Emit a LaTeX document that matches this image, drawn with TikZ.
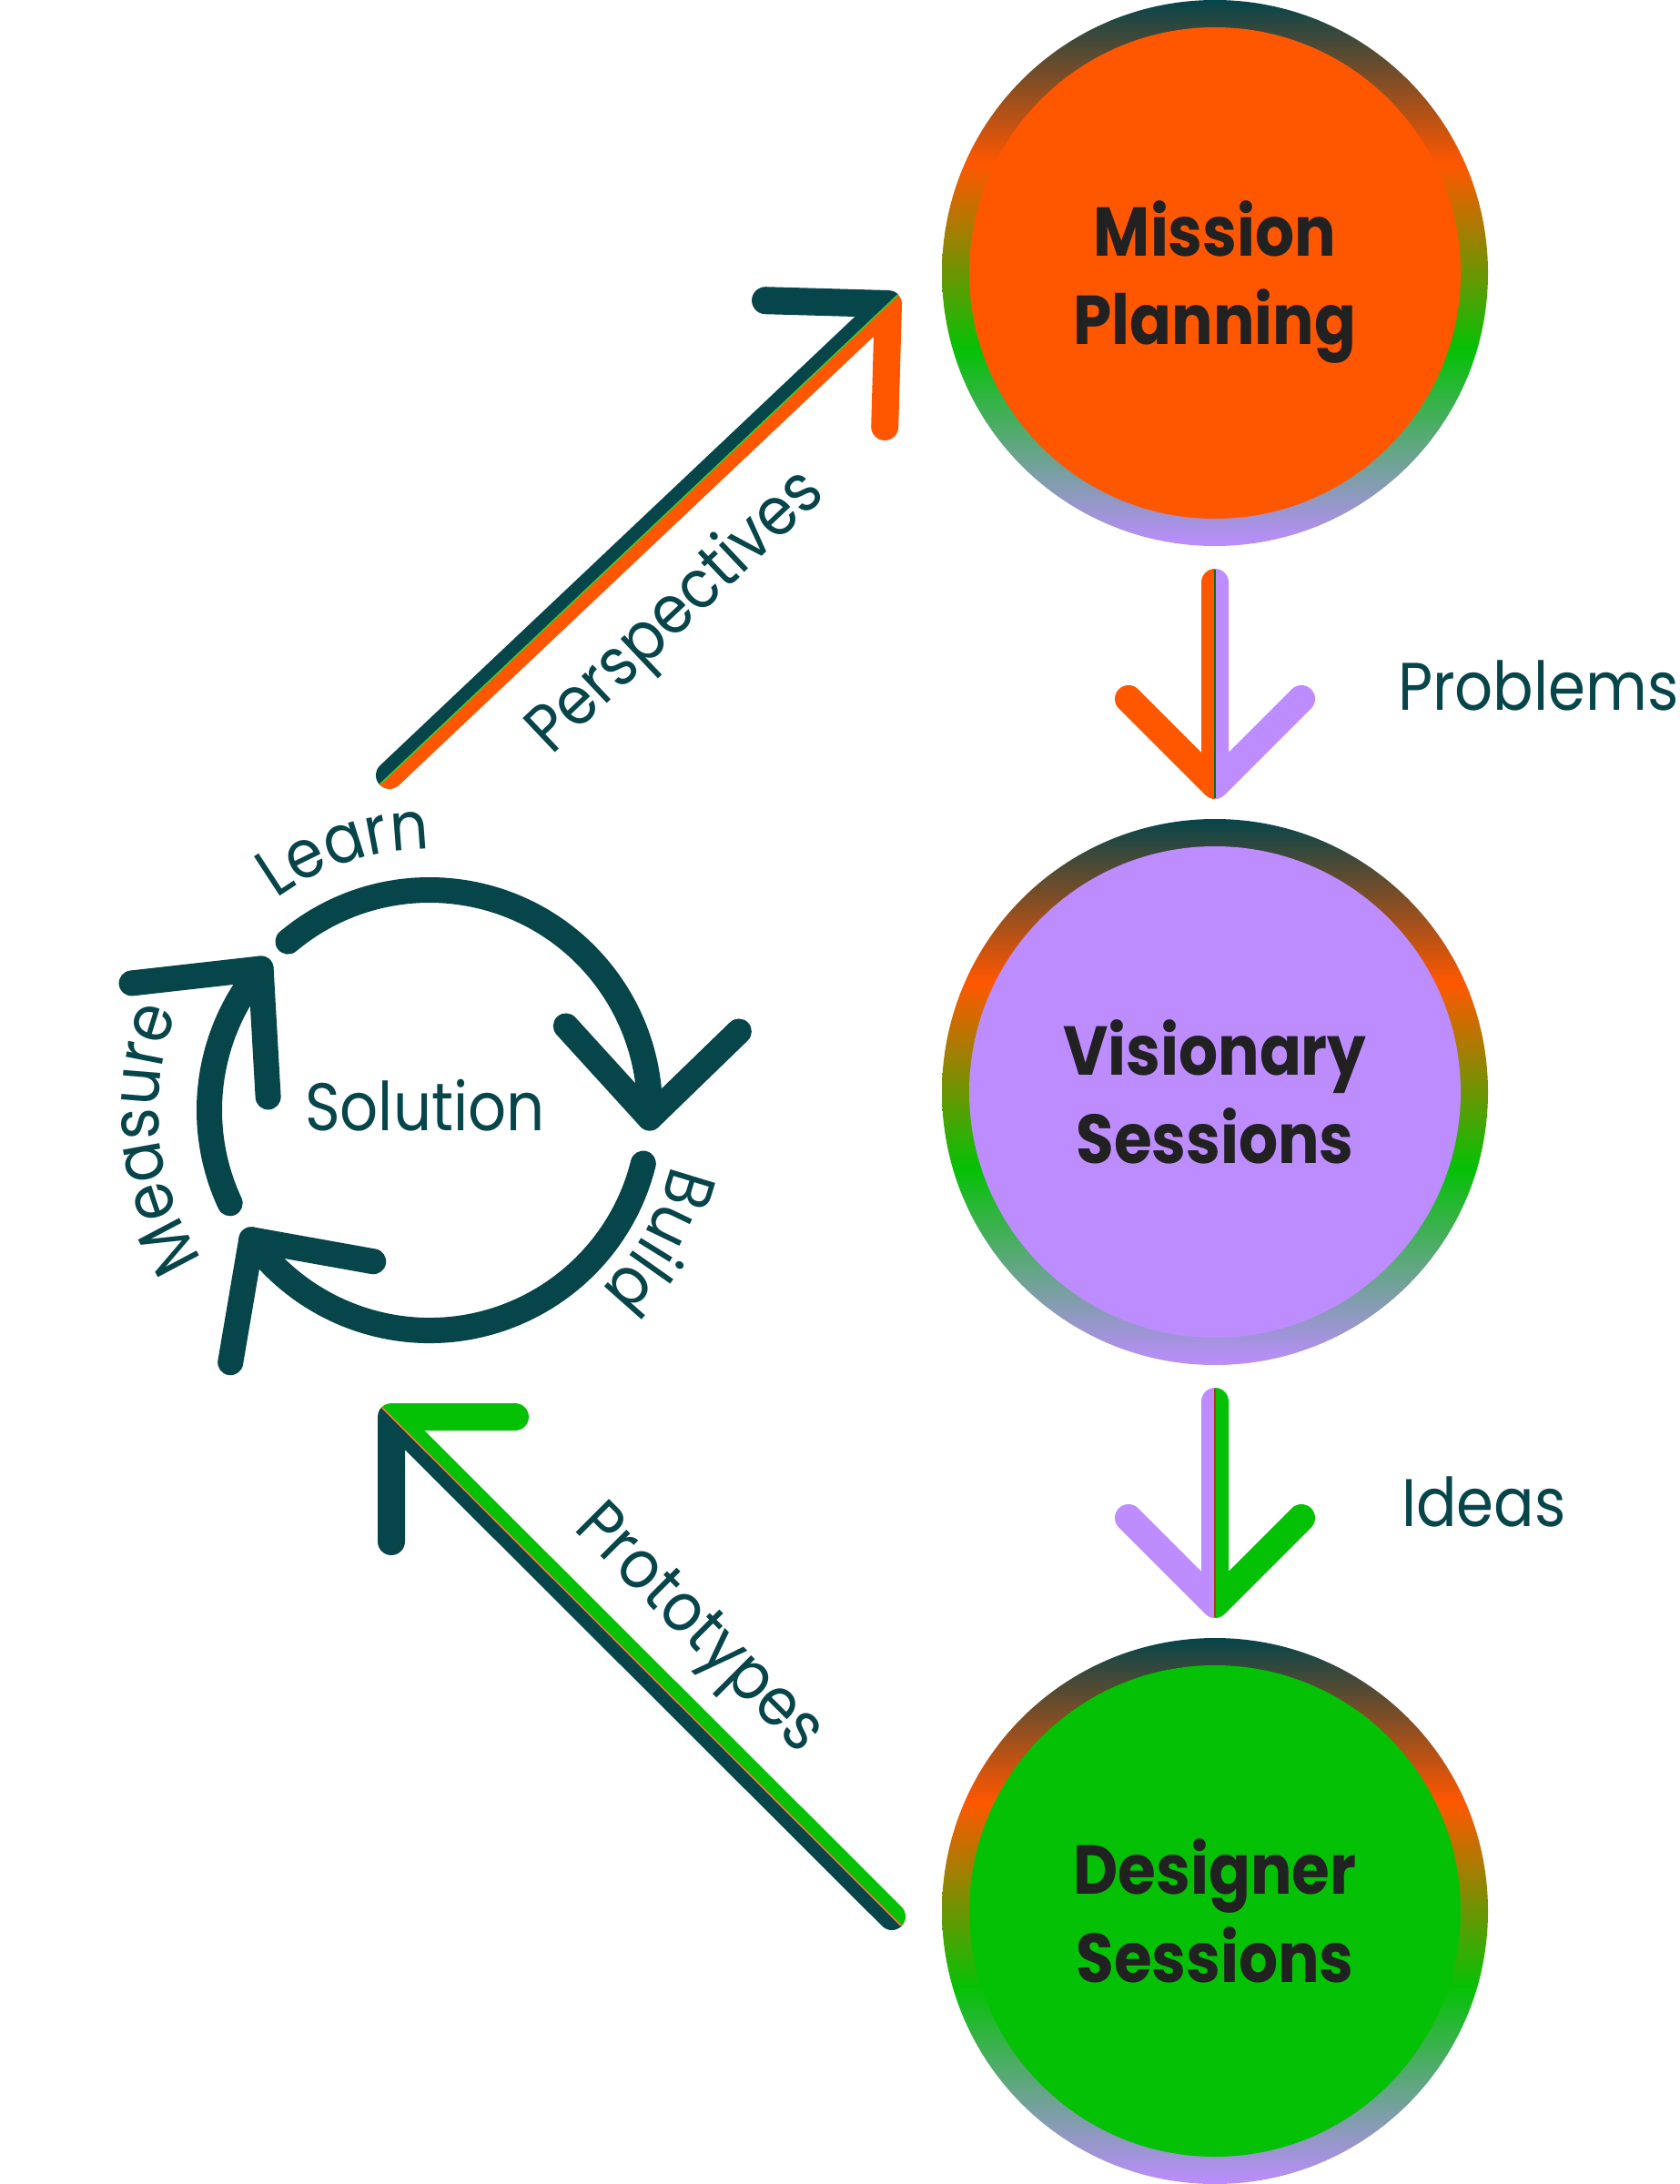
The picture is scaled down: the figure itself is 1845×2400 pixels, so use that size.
\documentclass[tikz,border=0pt]{standalone}
\usepackage{fontspec}
\setmainfont{Poppins}[FakeStretch=0.89]
\usepackage{tikz}
\usetikzlibrary{calc}
\usetikzlibrary{decorations.text}
\usepackage{color}
\definecolor{Teal-1}{HTML}{06454A}
\definecolor{Orange-1}{HTML}{FF5700}
\definecolor{Lilac-1}{HTML}{BD8CFF}
\definecolor{Green-1}{HTML}{05C105}
\definecolor{Ink-1}{HTML}{212121}
\pgfdeclareverticalshading{ringshade}{100bp}{color(0bp)=(Lilac-1); color(25bp)=(Lilac-1); color(43bp)=(Green-1); color(60bp)=(Orange-1); color(75bp)=(Teal-1); color(100bp)=(Teal-1)}
\newcommand{\labelfont}{\fontsize{74}{89}\selectfont}
\newcommand{\titlefont}{\bfseries\fontsize{76}{97}\selectfont}

\begin{document}
\begin{tikzpicture}[x=1pt, y=1pt,
    ring/.style={circle, inner sep=0pt, outer sep=0pt, minimum size=600pt, shading=ringshade},
    disc/.style={circle, inner sep=0pt, outer sep=0pt, minimum size=540pt, text=Ink-1, font=\titlefont, align=center, text depth=0pt},
    halfarrow/.style={line width=30pt, line cap=round, line join=round},
    seam/.style={line width=1.5pt},
    loop/.style={draw=Teal-1, line width=28pt, line cap=round, line join=round},
    lbl/.style={inner sep=0pt, outer sep=0pt, text=Teal-1, font=\labelfont}]

    \path[use as bounding box, fill=white] (0,0) rectangle (1845,-2400);

    \node[ring] (mission_ring)   at (1335, -300) {};
    \node[disc, fill=Orange-1] (mission)   at (1335, -300) {Mission\\Planning};
    \node[ring] (visionary_ring) at (1335, -300-900) {};
    \node[disc, fill=Lilac-1]  (visionary) at (1335, -300-900) {Visionary\\Sessions};
    \node[ring] (designer_ring)  at (1335, -300-1800) {};
    \node[disc, fill=Green-1]  (designer)  at (1335, -300-1800) {Designer\\Sessions};

    % Problems
    \coordinate (prob_top) at ($(mission_ring.south)+(0,-40)$);
    \coordinate (prob_tip) at ($(visionary_ring.north)+(0,37)$);
    \coordinate (prob_l)   at ($(prob_tip)+(-95,95)$);
    \coordinate (prob_r)   at ($(prob_tip)+(95,95)$);
    \begin{scope}
      \clip ($(prob_tip)+(-200,-100)$) rectangle ($(prob_top)+(0,100)$);
      \draw[halfarrow, Orange-1] (prob_l) -- (prob_tip) -- (prob_top);
    \end{scope}
    \begin{scope}
      \clip ($(prob_tip)+(200,-100)$) rectangle ($(prob_top)+(0,100)$);
      \draw[halfarrow, Lilac-1] (prob_r) -- (prob_tip) -- (prob_top);
    \end{scope}
    \draw[seam, Green-1!60!black] ($(prob_top)+(0,14)$) -- ($(prob_tip)+(0,-14)$);
    \node[lbl, anchor=base west] (problems) at (1536, -780) {Problems};

    % Ideas
    \coordinate (idea_top) at ($(visionary_ring.south)+(0,-40)$);
    \coordinate (idea_tip) at ($(designer_ring.north)+(0,37)$);
    \coordinate (idea_l)   at ($(idea_tip)+(-95,95)$);
    \coordinate (idea_r)   at ($(idea_tip)+(95,95)$);
    \begin{scope}
      \clip ($(idea_tip)+(-200,-100)$) rectangle ($(idea_top)+(0,100)$);
      \draw[halfarrow, Lilac-1] (idea_l) -- (idea_tip) -- (idea_top);
    \end{scope}
    \begin{scope}
      \clip ($(idea_tip)+(200,-100)$) rectangle ($(idea_top)+(0,100)$);
      \draw[halfarrow, Green-1] (idea_r) -- (idea_tip) -- (idea_top);
    \end{scope}
    \draw[seam, Orange-1!70!black] ($(idea_top)+(0,14)$) -- ($(idea_tip)+(0,-14)$);
    \node[lbl, anchor=base west] (ideas) at (1540, -1677) {Ideas};

    % Perspectives
    \coordinate (persp_tail) at (428, -852);
    \coordinate (persp_tip)  at (976, -334);
    \coordinate (persp_up)   at ($(persp_tip)!135pt!-45:(persp_tail)$);
    \coordinate (persp_dn)   at ($(persp_tip)!135pt!45:(persp_tail)$);
    \coordinate (persp_a) at ($(persp_tail)!-60pt!(persp_tip)$);
    \coordinate (persp_b) at ($(persp_tip)!-60pt!(persp_tail)$);
    \begin{scope}
      \clip (persp_a) -- (persp_b) -- ($(persp_b)!400pt!-90:(persp_a)$) -- ($(persp_a)!400pt!90:(persp_b)$) -- cycle;
      \draw[halfarrow, Teal-1] (persp_up) -- (persp_tip) -- (persp_tail);
    \end{scope}
    \begin{scope}
      \clip (persp_a) -- (persp_b) -- ($(persp_b)!400pt!90:(persp_a)$) -- ($(persp_a)!400pt!-90:(persp_b)$) -- cycle;
      \draw[halfarrow, Orange-1] (persp_dn) -- (persp_tip) -- (persp_tail);
    \end{scope}
    \draw[seam, Green-1!80!white] ($(persp_tail)!-14pt!(persp_tip)$) -- ($(persp_tip)!-14pt!(persp_tail)$);
    \node[lbl, rotate=43.4] (perspectives) at ($(persp_tail)!0.467!(persp_tip)!88pt!-90:(persp_tip)$) {Perspectives};

    % Prototypes
    \coordinate (proto_tail) at (980, -2106);
    \coordinate (proto_tip)  at (430, -1557);
    \coordinate (proto_rt)   at ($(proto_tip)+(136,0)$);
    \coordinate (proto_dn)   at ($(proto_tip)+(0,-137)$);
    \coordinate (proto_a) at ($(proto_tip)!-60pt!(proto_tail)$);
    \coordinate (proto_b) at ($(proto_tail)!-60pt!(proto_tip)$);
    \begin{scope}
      \clip (proto_a) -- (proto_b) -- ($(proto_b)!400pt!-90:(proto_a)$) -- ($(proto_a)!400pt!90:(proto_b)$) -- cycle;
      \draw[halfarrow, Green-1] (proto_rt) -- (proto_tip) -- (proto_tail);
    \end{scope}
    \begin{scope}
      \clip (proto_a) -- (proto_b) -- ($(proto_b)!400pt!90:(proto_a)$) -- ($(proto_a)!400pt!-90:(proto_b)$) -- cycle;
      \draw[halfarrow, Teal-1] (proto_dn) -- (proto_tip) -- (proto_tail);
    \end{scope}
    \draw[seam, Orange-1!80!white] ($(proto_tip)!-14pt!(proto_tail)$) -- ($(proto_tail)!-14pt!(proto_tip)$);
    \node[lbl, rotate=-45] (prototypes) at ($(proto_tip)!0.52!(proto_tail)!70pt!90:(proto_tail)$) {Prototypes};

    % build - measure - learn loop
    \coordinate (loop_c) at (472, -1220);
    \node[lbl, anchor=base] (solution) at (467, -1242) {Solution};

    \coordinate (build_tip)   at ($(loop_c)+(-2:242)$);
    \coordinate (measure_tip) at ($(loop_c)+(-144:242)$);
    \coordinate (learn_tip)   at ($(loop_c)+(140:242)$);

    \draw[loop] ($(loop_c)+(130:242)$) arc[start angle=130, end angle=-2, radius=242];
    \draw[loop] ($(build_tip)+(-92,101)$) -- (build_tip) -- ($(build_tip)+(98,95)$);
    \draw[loop] ($(loop_c)+(-14:242)$) arc[start angle=-14, end angle=-144, radius=242];
    \draw[loop] ($(measure_tip)+(134,-24)$) -- (measure_tip) -- ($(measure_tip)+(-23,-135)$);
    \draw[loop] ($(loop_c)+(205:242)$) arc[start angle=205, end angle=140, radius=242];
    \draw[loop] ($(learn_tip)+(-142,-16)$) -- (learn_tip) -- ($(learn_tip)+(8,-141)$);

    \path[decorate, decoration={text along path, text align=center, text color=Teal-1, text={|\labelfont|Learn}}]
      ($(loop_c)+(150:287)$) arc[start angle=150, end angle=66, radius=287];
    \path[decorate, decoration={text along path, text align=center, text color=Teal-1, text={|\labelfont|Build}}]
      ($(loop_c)+(10:272)$) arc[start angle=10, end angle=-69, radius=272];
    \path[decorate, decoration={text along path, text align=center, text color=Teal-1, text={|\labelfont|Measure}}]
      ($(loop_c)+(232:298)$) arc[start angle=232, end angle=140, radius=298];
  \end{tikzpicture}
\end{document}
